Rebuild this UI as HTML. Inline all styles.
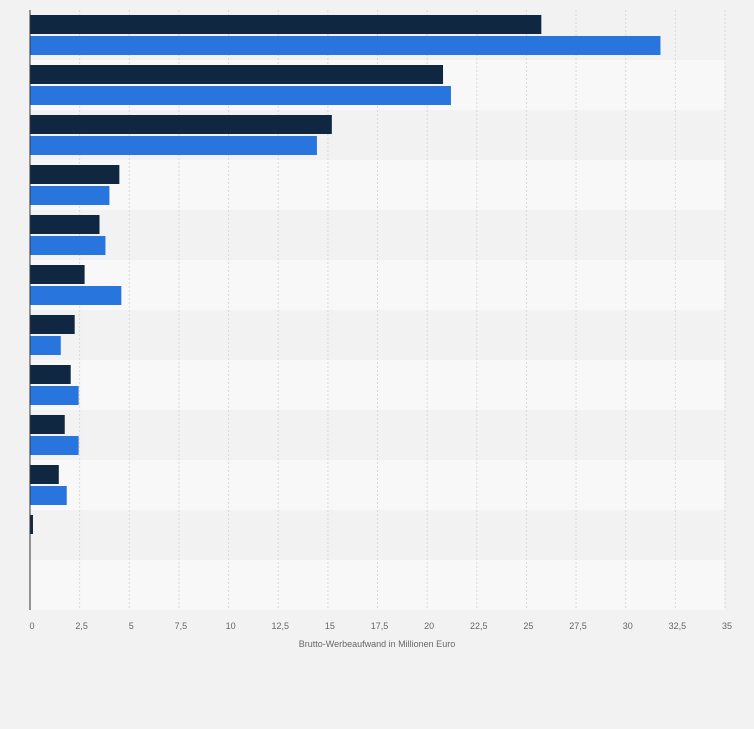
<!DOCTYPE html>
<html><head><meta charset="utf-8"><style>
body{margin:0;background:#f2f2f2;font-family:"Liberation Sans",sans-serif}
svg{display:block}
</style></head><body>
<svg id="c" width="754" height="729"></svg>
<script>
const categories=["r1","r2","r3","r4","r5","r6","r7","r8","r9","r10","r11","r12"];
const seriesA=[25.75,20.8,15.2,4.5,3.5,2.75,2.25,2.05,1.75,1.45,0.15,0];
const seriesB=[31.75,21.2,14.45,4.0,3.8,4.6,1.55,2.45,2.45,1.85,0,0];
const ticks=[0,2.5,5,7.5,10,12.5,15,17.5,20,22.5,25,27.5,30,32.5,35];
const tickLabels=["0","2,5","5","7,5","10","12,5","15","17,5","20","22,5","25","27,5","30","32,5","35"];
const NS="http://www.w3.org/2000/svg",svgEl=document.getElementById('c');
const x0=30,x1=725,plotTop=10,rowH=50;
const xs=v=>x0+v/35*(x1-x0);
function mk(t,a){const e=document.createElementNS(NS,t);for(const k in a)e.setAttribute(k,a[k]);svgEl.appendChild(e);return e;}
categories.forEach((c,i)=>{
 const r=mk('rect',{x:x0,y:plotTop+i*rowH,width:x1-x0,height:rowH,fill:i%2?'#f8f8f8':'#f2f2f2'});
 
 
});
ticks.forEach((t,i)=>{
 if(i>0){const l=mk('line',{x1:xs(t),x2:xs(t),y1:plotTop,y2:plotTop+rowH*categories.length,stroke:'#d8d8d8','stroke-dasharray':'2,2'});
 
 }
 const tx=mk('text',{x:xs(t)+2,y:629,'font-size':9,fill:'#666','text-anchor':'middle'});tx.textContent=tickLabels[i];
 
 
});
categories.forEach((c,i)=>{
 const y=plotTop+i*rowH;
 const a=mk('rect',{x:x0,y:y+5,width:xs(seriesA[i])-x0,height:19,fill:'#0f2740'});
 
 
 const b=mk('rect',{x:x0,y:y+26,width:xs(seriesB[i])-x0,height:19,fill:'#2876dd'});
 
 
});
const ax=mk('line',{x1:x0,x2:x0,y1:plotTop,y2:plotTop+rowH*categories.length,stroke:'#333','stroke-width':1});


const tt=mk('text',{x:377,y:647,'font-size':9,fill:'#666','text-anchor':'middle'});tt.textContent='Brutto-Werbeaufwand in Millionen Euro';


</script>
</body></html>
